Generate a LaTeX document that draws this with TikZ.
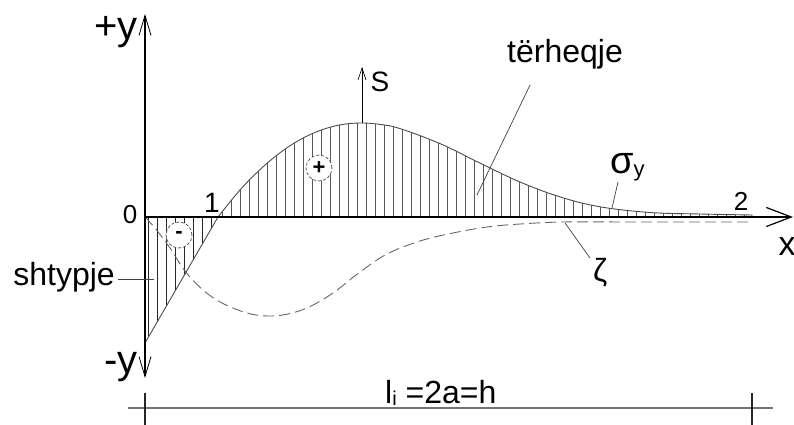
\documentclass[tikz,border=0pt]{standalone}
\usepackage{fontspec}
\setmainfont{Liberation Sans}
\usepackage{tikz}
\usetikzlibrary{arrows.meta}

\newcommand{\fs}[1]{\fontsize{#1}{#1}\selectfont}
\tikzset{
  axis/.style={line width=2pt},
  hatch/.style={black!65, line width=0.8pt},
  sigline/.style={black!70, line width=0.9pt},
  zetaline/.style={black!60, line width=0.9pt, dash pattern=on 11pt off 5pt},
  leader/.style={black!75, line width=0.7pt},
  sign/.style={circle, draw=black!70, densely dashed, fill=white, minimum size=26pt,
    line width=0.7pt, font=\fs{22}\bfseries},
  dimline/.style={black!55, line width=1.3pt},
  dimtick/.style={black!85, line width=1.5pt},
  barb/.style={-{Straight Barb[length=20pt,width=12pt,line width=0.8pt]}}
}

\begin{document}
\begin{tikzpicture}[x=1pt,y=1pt]
			\tikzstyle{every node}+=[inner sep=0pt]
			\useasboundingbox (0,0) rectangle (794,-425);
			% hatching, tension part
			\begin{scope}
				\clip (218,-217) -- plot[smooth,tension=0.6] coordinates {(218,-217) (240,-190) (260,-169.6) (280,-152.8) (300,-139.7) (320,-130.5) (340,-124.9) (360,-123) (380,-124.4) (400,-128.6) (440,-143.6) (480,-163.1) (520,-182) (560,-196.9) (600,-206.8) (650,-212.5) (700,-214) (752,-215)} -- (752,-217) -- cycle;
				\foreach \x in {222,231,...,750} \draw[hatch] (\x,-217) -- (\x,-120);
			\end{scope}
			% hatching, compression part
			\begin{scope}
				\clip (145,-217) -- (145,-343) -- (218,-217) -- cycle;
				\foreach \x in {148,157,...,216} \draw[hatch,black!85] (\x,-217) -- (\x,-345);
			\end{scope}
			% sigma_y
			\draw[sigline] (145,-343) -- (218,-217) -- plot[smooth,tension=0.6] coordinates {(218,-217) (240,-190) (260,-169.6) (280,-152.8) (300,-139.7) (320,-130.5) (340,-124.9) (360,-123) (380,-124.4) (400,-128.6) (440,-143.6) (480,-163.1) (520,-182) (560,-196.9) (600,-206.8) (650,-212.5) (700,-214) (752,-215)} -- (752,-217);
			% zeta
			\draw[zetaline] plot[smooth,tension=0.6] coordinates {(145,-217) (155,-228) (170,-248) (185,-271) (203,-290) (222,-303) (247,-313) (268,-316) (288,-314) (309,-307) (333,-293) (360,-272) (387,-254) (420,-241) (453,-233) (487,-227) (520,-224) (563,-222) (620,-222)} -- (752,-222);
			% axes
			\coordinate (O) at (145,-217);
			\coordinate (ytop) at (145,-14);
			\coordinate (ybot) at (145,-378);
			\coordinate (xend) at (793,-217);
			\draw[axis,barb] (O) -- (ytop);
			\draw[axis,barb] (O) -- (ybot);
			\draw[axis,-{Straight Barb[length=25pt,width=19pt,line width=1.2pt]}] (O) -- (xend);
			\node[anchor=base east, font=\fs{40}] (yplus) at (138,-40) {+y};
			\node[anchor=base east, font=\fs{40}] (yminus) at (138,-373) {-y};
			\node[font=\fs{26}] (n0) at (130,-215) {0};
			\node[font=\fs{28}] (n1) at (212,-203) {1};
			\node[font=\fs{26}] (n2) at (741,-201) {2};
			\node[font=\fs{34}] (xlab) at (787,-247) {x};
			% S
			\coordinate (stop) at (362,-123);
			\coordinate (sarr) at (362,-67);
			\draw[line width=1pt,-{Straight Barb[length=12pt,width=8pt,line width=0.7pt]}] (stop) -- (sarr);
			\node[font=\fs{28}] (slab) at (380,-82) {S};
			% signs
			\node[sign] (minus) at (179,-235) {-};
			\node[sign] (plus) at (319,-168) {+};
			% labels and leaders
			\node[anchor=base west, font=\fs{32}] (terh) at (507,-63) {tërheqje};
			\node[anchor=base east, font=\fs{32}] (shtyp) at (115,-285) {shtypje};
			\node[anchor=base west, font=\fs{38}] (sig) at (610,-173) {σ\raisebox{-3pt}{\fs{22}y}};
			\node[anchor=base west, font=\fs{32}] (zeta) at (593,-281) {ζ};
			\coordinate (ptens) at (477,-195);
			\coordinate (psig) at (612,-208);
			\coordinate (pzeta) at (565,-223);
			\coordinate (pshtyp) at (154,-279);
			\draw[leader] (terh.base west) ++(23,-22) -- (ptens);
			\draw[leader] (sig.base west) ++(8,-9) -- (psig);
			\draw[leader] (zeta.base west) ++(-3,23) -- (pzeta);
			\draw[leader] (shtyp.base east) ++(3,6) -- (pshtyp);
			% dimension
			\coordinate (dA) at (145,-408);
			\coordinate (dB) at (752,-408);
			\draw[dimline] ([xshift=-17pt]dA) -- ([xshift=21pt]dB);
			\draw[dimtick] ([yshift=15pt]dA) -- ([yshift=-17pt]dA);
			\draw[dimtick] ([yshift=15pt]dB) -- ([yshift=-17pt]dB);
			\node[anchor=base west, font=\fs{32}] (span) at (385,-403) {l\raisebox{-2pt}{\fs{20}i} =2a=h};
		\end{tikzpicture}
\end{document}
